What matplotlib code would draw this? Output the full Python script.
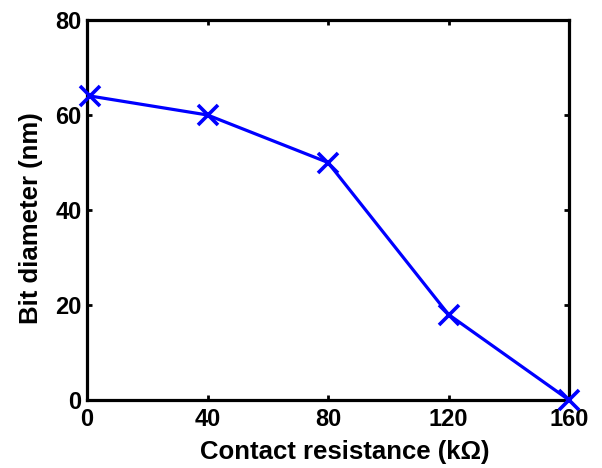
import numpy as np
import matplotlib
matplotlib.use('Agg')
from matplotlib import pyplot as plt

# data
resistance = [1, 40, 80, 120, 160]     # kOhm
diameter = [64, 60, 50, 18, 0]         # nm
xticks = [0, 40, 80, 120, 160]
yticks = [0, 20, 40, 60, 80]

plt.rcParams['font.family'] = ['Liberation Sans', 'DejaVu Sans']
plt.rcParams['font.weight'] = 'bold'

fig = plt.figure(figsize=(6.02, 4.68), dpi=100)
ax = fig.add_axes([87/602, 1-400/468, (569-87)/602, (400-20)/468])

ax.plot(resistance, diameter, color='#0000ff', lw=2.3, marker='x',
        ms=15, mew=2.6, clip_on=False, zorder=3)

ax.set_xlim(0, 160)
ax.set_ylim(0, 80)
ax.set_xticks(xticks)
ax.set_yticks(yticks)
ax.tick_params(direction='in', top=True, right=True, length=3.5, width=2,
               labelsize=17)
ax.tick_params(axis='x', pad=6)
ax.tick_params(axis='y', pad=4)
for s in ax.spines.values():
    s.set_linewidth(2.3)

ax.set_xlabel('Contact resistance (k\u03a9)', fontsize=18.5, fontweight='bold')
ax.set_ylabel('Bit diameter (nm)', fontsize=18.5, fontweight='bold')
# label positions are a bit off-centre in the original
ax.xaxis.set_label_coords(0.535, -0.105)
ax.yaxis.set_label_coords(-0.091, 0.478)

fig.savefig('out.png', dpi=100)
